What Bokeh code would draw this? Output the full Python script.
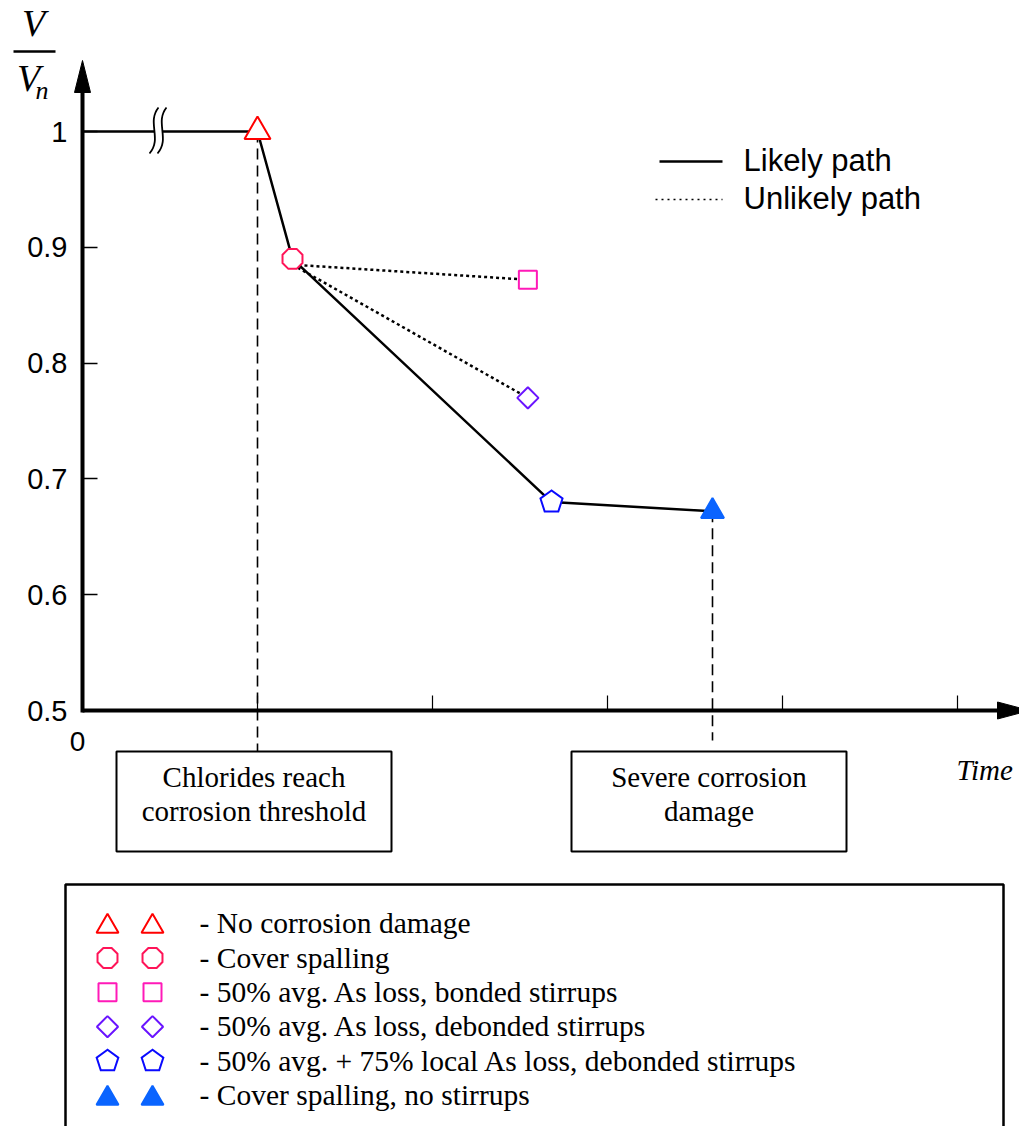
import numpy as np
from bokeh.plotting import figure
from bokeh.models import Range1d, LinearAxis, FixedTicker
from bokeh.core.properties import value
from bokeh.embed import file_html
from bokeh.resources import INLINE

# ---------------- data (time in arbitrary units, ratio V/Vn) ----------------
likely_time = [0.0, 1.0, 1.2, 2.68, 3.6]
likely_ratio = [1.0, 1.0, 0.89, 0.68, 0.672]

bonded_time = [1.2, 2.545]
bonded_ratio = [0.885, 0.872]
debonded_time = [1.2, 2.545]
debonded_ratio = [0.885, 0.770]

state_labels = [
    "No corrosion damage",
    "Cover spalling",
    "50% avg. As loss, bonded stirrups",
    "50% avg. As loss, debonded stirrups",
    "50% avg. + 75% local As loss, debonded stirrups",
    "Cover spalling, no stirrups",
]
state_time = [1.0, 1.2, 2.545, 2.545, 2.68, 3.6]
state_ratio = [1.0, 0.89, 0.872, 0.770, 0.68, 0.672]

event_labels = [["Chlorides reach", "corrosion threshold"], ["Severe corrosion", "damage"]]
event_time = [1.0, 3.6]

y_ticks = [0.5, 0.6, 0.7, 0.8, 0.9, 1.0]
x_ticks = [1, 2, 3, 4, 5]

# ---------------- styles ----------------
state_shape = ["triangle", "octagon", "square", "diamond", "pentagon", "triangle"]
state_color = ["#FF0000", "#FF1458", "#FF1AB8", "#6A14FF", "#0A0AFF", "#0A64FF"]
state_filled = [False, False, False, False, False, True]
plot_size = [26, 10.8, 18, 15, 11.6, 23]
legend_size = [22, 10.8, 18, 15, 11.4, 22]

SERIF = "Liberation Serif"
SANS = "Liberation Sans"

# ---------------- canvas mapping ----------------
W, H = 1019, 1126
OX, OY = 82, 710          # pixel position of (t=0, ratio=0.5)
SX, SY = 175.0, 1158.0    # pixels per unit
Y0 = 0.5


def tx(px):
    return (px - OX) / SX


def ty(py):
    return Y0 + (OY - py) / SY


p = figure(width=W, height=H,
           x_range=Range1d(tx(0), tx(W)), y_range=Range1d(ty(H), ty(0)),
           x_axis_type=None, y_axis_type=None, output_backend="svg",
           toolbar_location=None, min_border=0, outline_line_color=None)
p.background_fill_color = "white"
p.border_fill_color = "white"


def label(xs, bases, texts, font, fs, align="left", style="normal"):
    """Place texts so that their baseline sits at pixel rows `bases`."""
    ys = [ty(b - 0.38 * fs) for b in bases]
    p.text(x=xs, y=ys, text=texts, text_font=value(font), text_font_size=value(f"{fs}px"),
           text_font_style=style, text_align=align, text_baseline="alphabetic",
           text_color="black")


# ---------------- axes ----------------
yax = LinearAxis(fixed_location=0, ticker=FixedTicker(ticks=y_ticks),
                 bounds=(Y0 - 2 / SY, ty(90)),
                 axis_line_width=4, axis_line_color="black",
                 major_tick_in=15, major_tick_out=0, major_tick_line_width=1.5,
                 minor_tick_line_color=None, major_label_standoff=15,
                 major_label_text_font=SANS,
                 major_label_text_font_size="29px", major_label_text_color="black")
p.add_layout(yax, "left")

xax = LinearAxis(fixed_location=Y0, ticker=FixedTicker(ticks=x_ticks),
                 bounds=(0, tx(1000)),
                 axis_line_width=4, axis_line_color="black",
                 major_tick_in=15, major_tick_out=0, major_tick_line_width=1.2,
                 minor_tick_line_color=None, major_label_text_color=None)
p.add_layout(xax, "below")

# arrow heads
p.patch([-8 / SX, 8 / SX, 0], [ty(92), ty(92), ty(60)], color="black")
p.patch([tx(997), tx(997), tx(1029)], [Y0 + 8.5 / SY, Y0 - 8.5 / SY, Y0], color="black")

# origin label and axis titles
label([tx(77)], [752], ["0"], SANS, 28, align="center")
label([tx(956)], [781], ["Time"], SERIF, 29, style="italic")
label([tx(33)], [37], ["V"], SERIF, 38, align="center", style="italic")
p.segment(x0=[tx(13)], y0=[ty(51)], x1=[tx(55)], y1=[ty(51)], line_width=2.5, color="black")
label([tx(28)], [92], ["V"], SERIF, 38, align="center", style="italic")
label([tx(35)], [100], ["n"], SERIF, 26, style="italic")

# ---------------- paths ----------------
p.line(likely_time, likely_ratio, line_width=2.5, color="black")
p.line(bonded_time, bonded_ratio, line_width=2.5, color="black", line_dash="3 3")
p.line(debonded_time, debonded_ratio, line_width=2.5, color="black", line_dash="3 3")

# axis break on the initial plateau
bx, by = 158, OY - (likely_ratio[0] - Y0) * SY
p.quad(left=[tx(bx - 4)], right=[tx(bx + 4)], bottom=[likely_ratio[0] - 4 / SY],
       top=[likely_ratio[0] + 4 / SY], fill_color="white", line_color=None)
for off in (0, 8):
    p.bezier(x0=[tx(bx + off)], y0=[ty(by - 24)], x1=[tx(bx - 9 + off)], y1=[ty(by + 22)],
             cx0=[tx(bx - 12 + off)], cy0=[ty(by - 9)], cx1=[tx(bx + 4 + off)], cy1=[ty(by + 7)],
             line_width=1.8, color="black")

# dashed event lines and boxes
event_line_end = [751, 740]
for t, r, lines, yend in zip(event_time, [state_ratio[0], state_ratio[5]], event_labels, event_line_end):
    p.segment(x0=[t], y0=[r], x1=[t], y1=[ty(yend)], line_width=1.6, color="black",
              line_dash="11 6")
    cx = t - 3.5 / SX
    p.quad(left=[cx - 137.5 / SX], right=[cx + 137.5 / SX], top=[ty(751)], bottom=[ty(851)],
           fill_color="white", line_color="black", line_width=2)
    label([cx, cx], [788, 822], lines, SERIF, 29, align="center")


def draw_marker(t, r, shape, color, filled, size):
    fill = color if filled else "white"
    if shape in ("octagon", "pentagon"):
        n = 8 if shape == "octagon" else 5
        start = np.pi / 8 if shape == "octagon" else np.pi / 2
        a = start + 2 * np.pi * np.arange(n) / n
        p.patch(t + size * np.cos(a) / SX, r + size * np.sin(a) / SY,
                fill_color=fill, line_color=color, line_width=2, line_join="miter")
    elif shape == "diamond":
        p.scatter([t], [r], marker="square", angle=np.pi / 4, size=size,
                  fill_color=fill, line_color=color, line_width=2)
    else:
        p.scatter([t], [r], marker=shape, size=size,
                  fill_color=fill, line_color=color, line_width=2)


for t, r, s, c, f, z in zip(state_time, state_ratio, state_shape, state_color, state_filled, plot_size):
    draw_marker(t, r, s, c, f, z)

# ---------------- path legend ----------------
p.segment(x0=[tx(659)], y0=[ty(161)], x1=[tx(722)], y1=[ty(161)], line_width=2.5, color="black")
p.segment(x0=[tx(655)], y0=[ty(199)], x1=[tx(722)], y1=[ty(199)], line_width=1.5, color="black",
          line_dash="2 4")
label([tx(743), tx(743)], [172, 210], ["Likely path", "Unlikely path"], SANS, 31)

# ---------------- state legend box ----------------
p.quad(left=[tx(65)], right=[tx(1003)], top=[ty(884)], bottom=[ty(1140)],
       fill_color="white", line_color="black", line_width=2.5)
for i, (lab, s, c, f, z) in enumerate(zip(state_labels, state_shape, state_color, state_filled, legend_size)):
    base = 934 + 34.4 * i
    cy = base - (8 if s == "triangle" else 11)
    for mx in (107, 152):
        draw_marker(tx(mx), ty(cy), s, c, f, z)
    label([tx(199)], [base], ["- " + lab], SERIF, 29.5)

open("out.html", "w").write(file_html(p, INLINE))
